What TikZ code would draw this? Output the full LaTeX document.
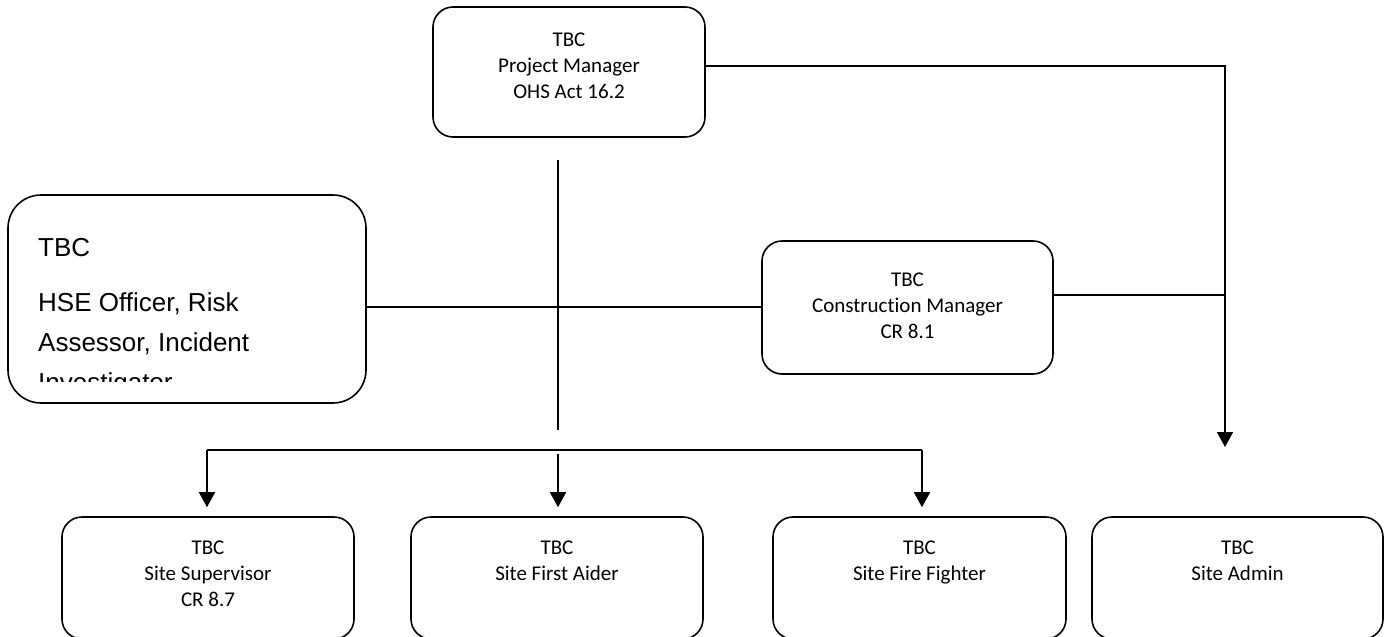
\documentclass[tikz,border=0pt]{standalone}
\usepackage{fontspec}
\setmainfont{Carlito}[Ligatures=NoCommon]
\newfontfamily\arialfont{Liberation Sans}
\usetikzlibrary{arrows.meta}
\begin{document}
\begin{tikzpicture}[x=1pt,y=-1pt,
  box/.style={draw, line width=1.6pt, rounded corners=20pt, inner sep=0pt},
  txt/.style={font=\fontsize{21}{26}\selectfont, anchor=base, inner sep=0pt},
  htxt/.style={font=\arialfont\fontsize{26}{30}\selectfont, anchor=base west, inner sep=0pt},
  conn/.style={line width=1.6pt},
  thin/.style={line width=1.3pt},
  arr/.style={conn, -{Triangle[width=16pt,length=15pt]}}]
\fill[white] (0,0) rectangle (1390,637);
\clip (0,0) rectangle (1390,637);
% boxes
\node[box, minimum width=272pt, minimum height=130pt] (pm) at (569,72) {};
\node[box, rounded corners=33pt, minimum width=358pt, minimum height=208pt] (hse) at (187,299) {};
\node[box, minimum width=291pt, minimum height=133pt] (cm) at (907.5,307.5) {};
\node[box, minimum width=292pt, minimum height=122pt] (b1) at (208,578) {};
\node[box, minimum width=292pt, minimum height=122pt] (b2) at (557,578) {};
\node[box, minimum width=293pt, minimum height=122pt] (b3) at (919.5,578) {};
\node[box, minimum width=291pt, minimum height=122pt] (b4) at (1237.5,578) {};
% texts
\node[txt] (pm1) at (569,46) {TBC};
\node[txt] (pm2) at (569,72) {Project Manager};
\node[txt] (pm3) at (569,98) {OHS Act 16.2};
\node[txt] (cm1) at (907.5,286) {TBC};
\node[txt] (cm2) at (907.5,312) {Construction Manager};
\node[txt] (cm3) at (907.5,338) {CR 8.1};
\node[txt] (b1a) at (208,554) {TBC};
\node[txt] (b1b) at (208,580) {Site Supervisor};
\node[txt] (b1c) at (208,606) {CR 8.7};
\node[txt] (b2a) at (557,554) {TBC};
\node[txt] (b2b) at (557,580) {Site First Aider};
\node[txt] (b3a) at (919.5,554) {TBC};
\node[txt] (b3b) at (919.5,580) {Site Fire Fighter};
\node[txt] (b4a) at (1237.5,554) {TBC};
\node[txt] (b4b) at (1237.5,580) {Site Admin};
\begin{scope}
\clip (8,195) rectangle (366,381);
\node[htxt] (h1) at (38,256) {TBC};
\node[htxt] (h2) at (38,311) {HSE Officer, Risk};
\node[htxt] (h3) at (38,351) {Assessor, Incident};
\node[htxt] (h4) at (38,391) {Investigator};
\end{scope}
% connectors
\coordinate (vtop) at (558,160);
\coordinate (vbot) at (558,430);
\draw[conn] (vtop) -- (vbot);
\coordinate (hl) at (366,307);
\draw[thin] (hl) -- (hl -| cm.west);
\coordinate (busL) at (207,450);
\coordinate (busR) at (922,450);
\coordinate (busM) at (558,454);
\draw[conn] (busL) -- (busR);
\draw[arr, shorten >=9pt] (busL) -- (busL |- b1.north);
\draw[arr, shorten >=9pt] (busM) -- (busM |- b2.north);
\draw[arr, shorten >=9pt] (busR) -- (busR |- b3.north);
\coordinate (rc) at (1225,66);
\coordinate (rtip) at (1225,447);
\draw[arr] (pm.east |- rc) -- (rc) -- (rtip);
\coordinate (cmr) at (1225,295);
\draw[thin] (cm.east |- cmr) -- (cmr);
\end{tikzpicture}
\end{document}
